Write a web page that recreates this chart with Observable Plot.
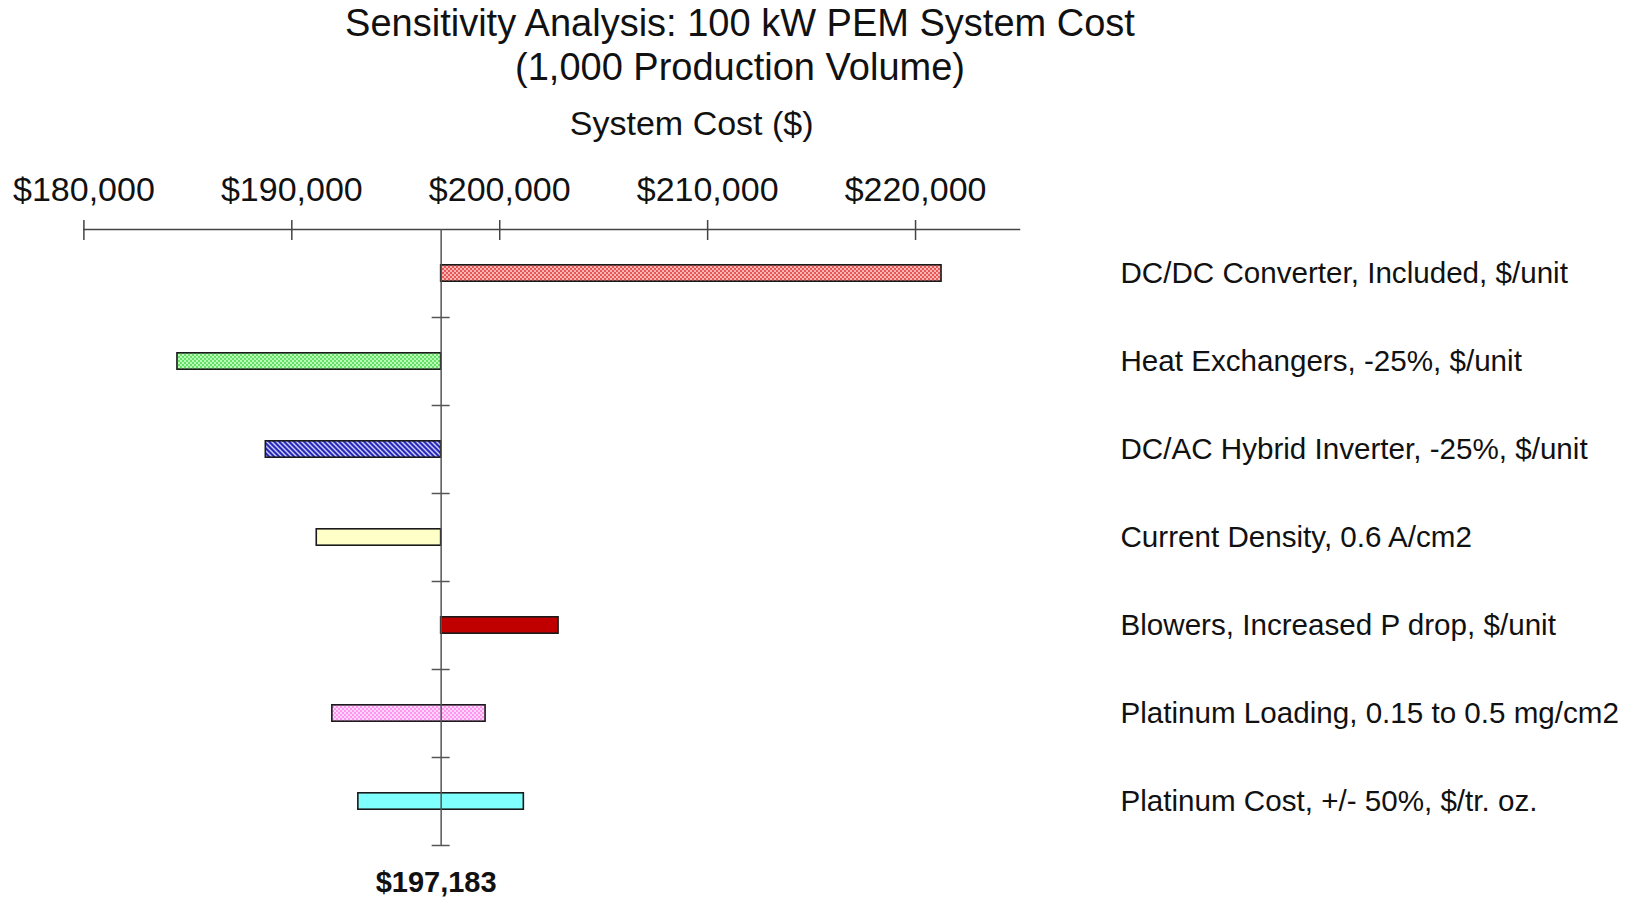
<!DOCTYPE html>
<html><head><meta charset="utf-8">
<script src="https://cdn.jsdelivr.net/npm/d3@7"></script>
<script src="https://cdn.jsdelivr.net/npm/@observablehq/plot@0.6"></script>
<style>
body{margin:0;background:#fff;font-family:"Liberation Sans",Arial,sans-serif;}
#title{width:1480px;height:100px;text-align:center;font-size:38px;line-height:44px;color:#111;padding-top:1px;box-sizing:border-box}
#chart svg{display:block}
</style></head><body>
<div id="title"><div>Sensitivity Analysis: 100 kW PEM System Cost</div><div>(1,000 Production Volume)</div></div>
<div id="chart"></div>
<script>
const categories = [
  "DC/DC Converter, Included, $/unit",
  "Heat Exchangers, -25%, $/unit",
  "DC/AC Hybrid Inverter, -25%, $/unit",
  "Current Density, 0.6 A/cm2",
  "Blowers, Increased P drop, $/unit",
  "Platinum Loading, 0.15 to 0.5 mg/cm2",
  "Platinum Cost, +/- 50%, $/tr. oz."
];
const lowValues  = [197183, 184500, 188750, 191200, 197183, 191950, 193200];
const highValues = [221250, 197183, 197183, 197183, 202830, 199320, 201160];
const baseCost = 197183;
const xTicks = [180000, 190000, 200000, 210000, 220000];
const xDomain = [180000, 225000];
const axisTitle = "System Cost ($)";
const barFills = ["url(#patRed)", "url(#patGreen)", "url(#patBlue)", "#ffffc8", "#c00000", "url(#patPink)", "#80ffff"];

const data = categories.map((name, i) => ({name, low: lowValues[i], high: highValues[i]}));
const fmt = d3.format("$,");

const chart = Plot.plot({
  width: 1634, height: 797,
  marginTop: 129, marginBottom: 52, marginLeft: 83.4, marginRight: 615,
  style: {fontFamily: '"Liberation Sans", Arial, sans-serif', fontSize: "29.6px", color: "#111", background: "#fff"},
  x: {domain: xDomain},
  y: {domain: categories, padding: 0},
  color: {domain: categories, range: barFills},
  marks: [
    Plot.frame({anchor: "top", stroke: "#444", strokeWidth: 1.5}),
    Plot.axisX({anchor: "top", ticks: xTicks, tickSize: 20, dy: 10, tickPadding: 18.5, tickFormat: fmt, fontSize: 34, label: null, stroke: "#444", strokeWidth: 1.5}),
    Plot.axisY({anchor: "right", tickSize: 0, tickPadding: 101, fontSize: 29.6, label: null, textAnchor: "start"}),
    Plot.barX(data, {x1: "low", x2: "high", y: "name", fill: "name", stroke: "#1a1a1a", strokeWidth: 1.6, insetTop: 35.8, insetBottom: 35.8}),
    Plot.ruleX([baseCost], {stroke: "#555", strokeWidth: 1.5}),
    Plot.ruleY(categories, {y: d => d, x1: baseCost, x2: baseCost, insetLeft: -9, insetRight: -9, dy: 44, stroke: "#555", strokeWidth: 1.5}),
    Plot.text([baseCost], {x: d => d, text: d => fmt(d), frameAnchor: "bottom", lineAnchor: "middle", dy: 37, dx: -5, fontWeight: "bold", fontSize: 29}),
    Plot.text([axisTitle], {text: d => d, frameAnchor: "top", lineAnchor: "middle", dx: 140, dy: -105, fontSize: 34})
  ]
});

const defs = d3.select(chart).insert("defs", ":first-child");
function checker(id, base, dot) {
  const p = defs.append("pattern").attr("id", id).attr("patternUnits", "userSpaceOnUse").attr("width", 4).attr("height", 4);
  p.append("rect").attr("width", 4).attr("height", 4).attr("fill", base);
  p.append("rect").attr("width", 2).attr("height", 2).attr("fill", dot);
  p.append("rect").attr("x", 2).attr("y", 2).attr("width", 2).attr("height", 2).attr("fill", dot);
}
checker("patRed", "#e65858", "#ffb4b4");
checker("patGreen", "#66e066", "#b8ffb8");
checker("patPink", "#ff96ee", "#ffd4ff");
const pb = defs.append("pattern").attr("id", "patBlue").attr("patternUnits", "userSpaceOnUse").attr("width", 5).attr("height", 5);
pb.append("rect").attr("width", 5).attr("height", 5).attr("fill", "#2a2ab8");
pb.append("path").attr("d", "M0,0L5,5M-1,4L1,6M4,-1L6,1").attr("stroke", "#d0d0ff").attr("stroke-width", 1.4);

document.getElementById("chart").appendChild(chart);
</script>
</body></html>
